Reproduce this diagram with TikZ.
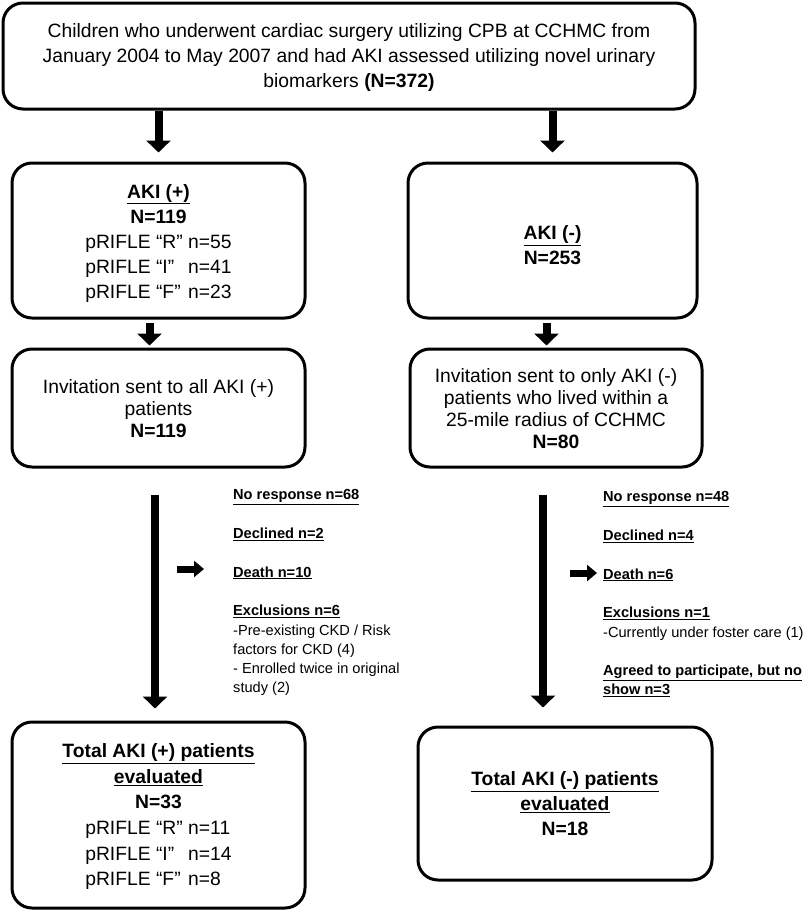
\documentclass[tikz,border=0pt]{standalone}
\usepackage{fontspec}
\setmainfont{Liberation Sans}
\usetikzlibrary{arrows.meta}
\begin{document}
\begin{tikzpicture}[x=1pt,y=-1pt,
  box/.style={draw, line width=3pt, rounded corners=20pt, inner sep=0pt, align=center,
    font=\fontsize{19.3}{25}\selectfont},
  invbox/.style={box, font=\fontsize{19.3}{22}\selectfont},
  bigarrow/.style={line width=8pt, -{Triangle[width=24pt,length=12pt]}},
  smallarrow/.style={line width=7pt, -{Triangle[width=16pt,length=10pt]}},
  side/.style={inner sep=0pt, anchor=north west, align=left,
    font=\fontsize{14.6}{19.3}\selectfont}]

\useasboundingbox (0,0) rectangle (805,910);

\node[box, minimum width=692pt, minimum height=106pt, font=\fontsize{19.3}{25.3}\selectfont] (top) at (349,56)
  {\rule{0pt}{17pt}Children who underwent cardiac surgery utilizing CPB at CCHMC from\\
   January 2004 to May 2007 and had AKI assessed utilizing novel urinary\\
   biomarkers \textbf{(N=372)}};

\node[box, minimum width=293pt, minimum height=155pt] (aplus) at (158.5,240.5)
  {\rule{0pt}{23pt}\underline{\textbf{AKI (+)}}\\
   \textbf{N=119}\\
   \begin{tabular}[t]{@{}l@{ }l@{}}pRIFLE “R” & n=55\\ pRIFLE “I” & n=41\\ pRIFLE “F” & n=23\end{tabular}};

\node[box, minimum width=289pt, minimum height=155pt] (aminus) at (552.5,240.5)
  {\rule{0pt}{24pt}\underline{\textbf{AKI (-)}}\\ \textbf{N=253}};

\node[invbox, minimum width=293pt, minimum height=118pt] (iplus) at (158.5,408)
  {\rule{0pt}{16pt}Invitation sent to all AKI (+)\\ patients\\ \textbf{N=119}};

\node[invbox, minimum width=292pt, minimum height=118pt] (iminus) at (556,408)
  {\rule{0pt}{16pt}Invitation sent to only AKI (-)\\ patients who lived within a\\ 25-mile radius of CCHMC\\ \textbf{N=80}};

\node[box, minimum width=293pt, minimum height=186pt, font=\fontsize{19.3}{25.6}\selectfont] (bplus) at (158.5,815)
  {\rule{0pt}{21pt}\underline{\textbf{Total AKI (+) patients}}\\
   \underline{\textbf{evaluated}}\\
   \textbf{N=33}\\
   \begin{tabular}[t]{@{}l@{ }l@{}}pRIFLE “R” & n=11\\ pRIFLE “I” & n=14\\ pRIFLE “F” & n=8\end{tabular}};

\node[box, minimum width=294pt, minimum height=153pt] (bminus) at (565,803.5)
  {\underline{\textbf{Total AKI (-) patients}}\\
   \underline{\textbf{evaluated}}\\
   \textbf{N=18}};

\node[side] (sideL) at (233,489.5)
  {\underline{\textbf{No response n=68}}\\[19.3pt]
   \underline{\textbf{Declined n=2}}\\[19.3pt]
   \underline{\textbf{Death n=10}}\\[19.3pt]
   \underline{\textbf{Exclusions n=6}}\\
   -Pre-existing CKD / Risk\\
   factors for CKD (4)\\
   - Enrolled twice in original\\
   study (2)};

\node[side] (sideR) at (603,491.5)
  {\underline{\textbf{No response n=48}}\\[19.3pt]
   \underline{\textbf{Declined n=4}}\\[19.3pt]
   \underline{\textbf{Death n=6}}\\[19.3pt]
   \underline{\textbf{Exclusions n=1}}\\
   -Currently under foster care (1)\\[19.3pt]
   \underline{\textbf{Agreed to participate, but no}}\\
   \underline{\textbf{show n=3}}};

\draw[bigarrow, shorten >=9pt] (top.south -| aplus.north) -- (aplus.north);
\draw[bigarrow, shorten >=9pt] (top.south -| aminus.north) -- (aminus.north);

\draw[bigarrow, shorten <=3pt, shorten >=2pt] ([xshift=-9pt]aplus.south) -- ([xshift=-9pt]iplus.north);
\draw[bigarrow, shorten <=3pt, shorten >=2pt] ([xshift=-6pt]aminus.south) -- ([xshift=-6pt]aminus.south |- iminus.north);

\draw[bigarrow, shorten <=26pt, shorten >=12pt] ([xshift=-3.5pt]iplus.south) -- ([xshift=-3.5pt]iplus.south |- bplus.north);
\draw[bigarrow, shorten <=26pt, shorten >=18pt] ([xshift=-13pt]iminus.south) -- ([xshift=-13pt]iminus.south |- bminus.north);

\coordinate (la) at (177,569);
\coordinate (lb) at (204,569);
\coordinate (ra) at (570,573);
\coordinate (rb) at (597,573);
\draw[smallarrow] (la) -- (lb);
\draw[smallarrow] (ra) -- (rb);
\end{tikzpicture}
\end{document}
